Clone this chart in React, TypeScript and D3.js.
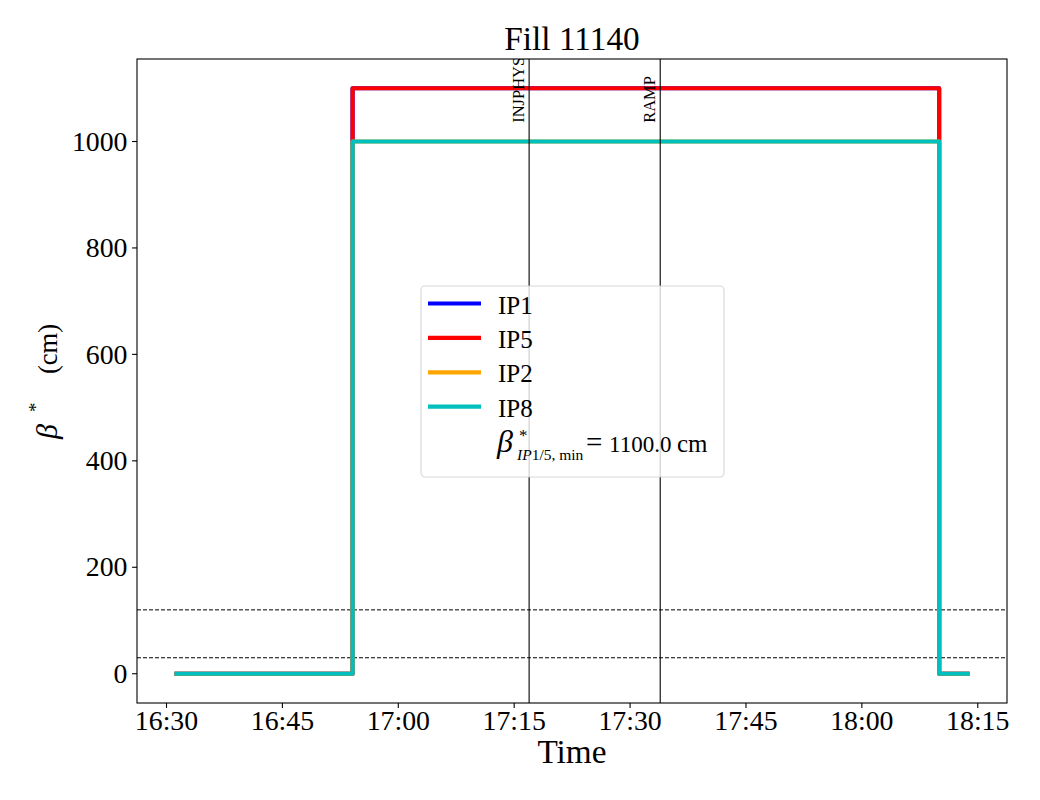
import React from 'react';
import * as d3 from 'd3';

const chartTitle = 'Fill 11140';
const seriesNames = ['IP1', 'IP5', 'IP2', 'IP8'];
const seriesColors = ['#0000ff', '#ff0000', '#ffa500', '#00bfbf'];
const stepTimes = ['16:31:18', '16:54:05', '18:10:00', '18:13:40'];
const ip1Values = [0, 1100, 0, 0];
const ip5Values = [0, 1100, 0, 0];
const ip2Values = [0, 1000, 0, 0];
const ip8Values = [0, 1000, 0, 0];
const eventNames = ['INJPHYS', 'RAMP'];
const eventTimes = ['17:16:56', '17:33:54'];
const eventLabelLevel = 1035;
const refLevels = [30, 120];
const yTicks = [0, 200, 400, 600, 800, 1000];
const xTickLabels = ['16:30', '16:45', '17:00', '17:15', '17:30', '17:45', '18:00', '18:15'];
const betaMin = 1100.0;

const W = 1040;
const H = 800;
const M = { left: 137, right: 1007, top: 59, bottom: 703 };
const FONT = '"Liberation Serif", "Times New Roman", serif';

export default function App() {
  const parseT = d3.timeParse('%H:%M:%S');
  const parseHM = d3.timeParse('%H:%M');
  const times = stepTimes.map((s) => parseT(s) as Date);
  const allValues = [ip1Values, ip5Values, ip2Values, ip8Values];

  const tMin = d3.min(times) as Date;
  const tMax = d3.max(times) as Date;
  const span = +tMax - +tMin;
  const x = d3
    .scaleTime()
    .domain([new Date(+tMin - 0.05 * span), new Date(+tMax + 0.05 * span)])
    .range([M.left, M.right]);

  const vMax = d3.max(allValues.flat()) as number;
  const vMin = d3.min(allValues.flat()) as number;
  const vSpan = vMax - vMin;
  const y = d3
    .scaleLinear()
    .domain([vMin - 0.05 * vSpan, vMax + 0.05 * vSpan])
    .range([M.bottom, M.top]);

  const line = d3
    .line<[Date, number]>()
    .x((d) => x(d[0]))
    .y((d) => y(d[1]))
    .curve(d3.curveStepAfter);

  const xTicks = xTickLabels.map((s) => parseHM(s) as Date);
  const fmt = d3.timeFormat('%H:%M');
  const tickFs = 27.8;
  const legendFs = 25;

  const legX = 421;
  const legY = 286;
  const legW = 303;
  const legH = 191;
  const rowY = (i: number) => 303.5 + i * 34.4;

  return (
    <svg
      width={W}
      height={H}
      style={{ position: 'absolute', left: 0, top: 0, background: '#fff' }}
      fontFamily={FONT}
    >
      <rect x={0} y={0} width={W} height={H} fill="#fff" />
      <defs>
        <clipPath id="plotclip">
          <rect x={M.left} y={M.top} width={M.right - M.left} height={M.bottom - M.top} />
        </clipPath>
      </defs>

      <g clipPath="url(#plotclip)">
        {refLevels.map((v, i) => (
          <line
            key={'ref' + i}
            x1={M.left}
            x2={M.right}
            y1={y(v)}
            y2={y(v)}
            stroke="#000"
            strokeWidth={1}
            strokeDasharray="4,2"
          />
        ))}
        {allValues.map((vals, si) => (
          <path
            key={'s' + si}
            d={line(times.map((t, i) => [t, vals[i]] as [Date, number])) || ''}
            fill="none"
            stroke={seriesColors[si]}
            strokeWidth={4.2}
            strokeLinecap="square"
            strokeLinejoin="round"
          />
        ))}
        {eventTimes.map((s, i) => {
          const xv = x(parseT(s) as Date);
          return (
            <g key={'ev' + i}>
              <line x1={xv} x2={xv} y1={M.top} y2={M.bottom} stroke="#000" strokeWidth={1.1} />
              <text
                transform={`translate(${xv - 5},${y(eventLabelLevel)}) rotate(-90)`}
                textAnchor="start"
                fontSize={16.5}
                fill="#000"
              >
                {eventNames[i]}
              </text>
            </g>
          );
        })}
      </g>

      {/* axes frame */}
      <rect
        x={M.left}
        y={M.top}
        width={M.right - M.left}
        height={M.bottom - M.top}
        fill="none"
        stroke="#000"
        strokeWidth={1.1}
      />

      {/* x ticks */}
      {xTicks.map((t, i) => (
        <g key={'xt' + i} transform={`translate(${x(t)},${M.bottom})`}>
          <line y1={0} y2={4.9} stroke="#000" strokeWidth={1.1} />
          <text y={26.5} textAnchor="middle" fontSize={tickFs} fill="#000">
            {fmt(t)}
          </text>
        </g>
      ))}

      {/* y ticks */}
      {yTicks.map((v, i) => (
        <g key={'yt' + i} transform={`translate(${M.left},${y(v)})`}>
          <line x1={-4.9} x2={0} stroke="#000" strokeWidth={1.1} />
          <text x={-9.5} y={tickFs * 0.33} textAnchor="end" fontSize={tickFs} fill="#000">
            {v}
          </text>
        </g>
      ))}

      {/* title */}
      <text x={(M.left + M.right) / 2} y={50} textAnchor="middle" fontSize={33.3} fill="#000">
        {chartTitle}
      </text>

      {/* x label */}
      <text x={(M.left + M.right) / 2} y={763} textAnchor="middle" fontSize={33.3} fill="#000">
        Time
      </text>

      {/* y label */}
      <g transform="translate(57,0) rotate(-90)">
        <text x={-439} y={0} fontSize={30} fontStyle="italic" fill="#000">β</text>
        <text x={-412} y={-15} fontSize={19} fill="#000">*</text>
        <text x={-374} y={0} fontSize={26.5} fill="#000">(cm)</text>
      </g>

      {/* legend */}
      <rect
        x={legX}
        y={legY}
        width={legW}
        height={legH}
        rx={4}
        fill="#fff"
        fillOpacity={0.8}
        stroke="#cccccc"
        strokeOpacity={0.8}
        strokeWidth={1.1}
      />
      {seriesNames.map((n, i) => (
        <g key={'lg' + i}>
          <line
            x1={428}
            x2={481}
            y1={rowY(i)}
            y2={rowY(i)}
            stroke={seriesColors[i]}
            strokeWidth={4.2}
          />
          <text x={498} y={rowY(i) + 10} fontSize={legendFs} fill="#000">
            {n}
          </text>
        </g>
      ))}
      <g fill="#000">
        <text x={497} y={452} fontSize={32} fontStyle="italic">β</text>
        <text x={519} y={441} fontSize={17}>*</text>
        <text x={517} y={460} fontSize={15.5}>
          <tspan fontStyle="italic">IP</tspan>
          <tspan>1/5, min</tspan>
        </text>
        <text x={586} y={452} fontSize={29}>=</text>
        <text x={609} y={452} fontSize={23}>{betaMin.toFixed(1)}</text>
        <text x={677} y={452} fontSize={25}>cm</text>
      </g>
    </svg>
  );
}
